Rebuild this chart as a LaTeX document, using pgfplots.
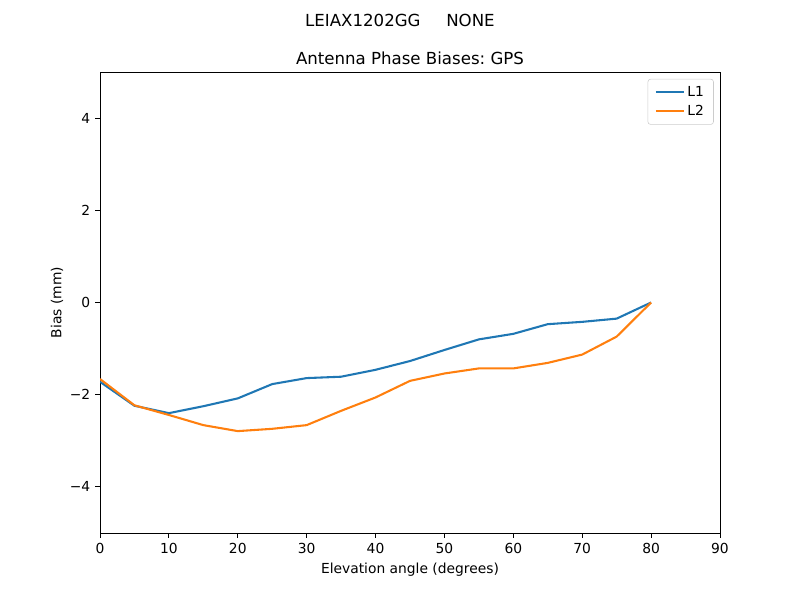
\documentclass[border=0pt]{standalone}
\usepackage{fontspec}
\setmainfont{DejaVu Sans}
\usepackage{pgfplots}
\pgfplotsset{compat=1.18}
\definecolor{c0}{HTML}{1F77B4}
\definecolor{c1}{HTML}{FF7F0E}
\begin{document}
\begin{tikzpicture}[x=1pt,y=1pt]
\path[use as bounding box] (-72.27pt,-48.42pt) rectangle (505.89pt,385.2pt);
\begin{axis}[
  at={(0,0)}, anchor=south west,
  scale only axis, width=448.07pt, height=333.17pt,
  xmin=0, xmax=90, ymin=-5, ymax=5,
  xtick={0,10,...,90},
  ytick={-4,-2,0,2,4},
  yticklabels={−4,−2,0,2,4},
  tick align=outside, major tick length=3.5pt,
  xtick pos=bottom, ytick pos=left,
  tick style={black, line width=0.6pt},
  axis line style={line width=0.6pt},
  /pgf/number format/assume math mode=true,
  ticklabel style={font=\fontsize{10}{12}\selectfont},
  title={Antenna Phase Biases:\ GPS},
  title style={font=\fontsize{12}{14}\selectfont, yshift=-4.5pt},
  xlabel={Elevation angle (degrees)},
  ylabel={Bias (mm)},
  ylabel style={yshift=-2pt},
  label style={font=\fontsize{10}{12}\selectfont},
  legend style={at={(0.99,0.985)}, anchor=north east, draw=black!20, rounded corners=2pt,
    font=\fontsize{10}{12}\selectfont, row sep=1pt, inner ysep=3pt, inner xsep=5pt},
  legend cell align=left,
  legend image code/.code={\draw[#1] (0pt,0pt) -- (20pt,0pt);},
]
\addplot[c0, line width=1.5pt] coordinates {
(0,-1.72) (5,-2.24) (10,-2.40) (15,-2.25) (20,-2.08) (25,-1.77) (30,-1.64) (35,-1.61)
(40,-1.46) (45,-1.27) (50,-1.03) (55,-0.80) (60,-0.68) (65,-0.47) (70,-0.42) (75,-0.35) (80,0.0)
};
\addlegendentry{L1}
\addplot[c1, line width=1.5pt] coordinates {
(0,-1.66) (5,-2.23) (10,-2.44) (15,-2.66) (20,-2.79) (25,-2.74) (30,-2.66) (35,-2.35)
(40,-2.06) (45,-1.70) (50,-1.54) (55,-1.43) (60,-1.43) (65,-1.31) (70,-1.13) (75,-0.74) (80,0.0)
};
\addlegendentry{L2}
\end{axis}
\node[font=\fontsize{12}{14}\selectfont] at (216.8pt,370.7pt) {LEIAX1202GG\hspace{1.55em}NONE};
\end{tikzpicture}
\end{document}
